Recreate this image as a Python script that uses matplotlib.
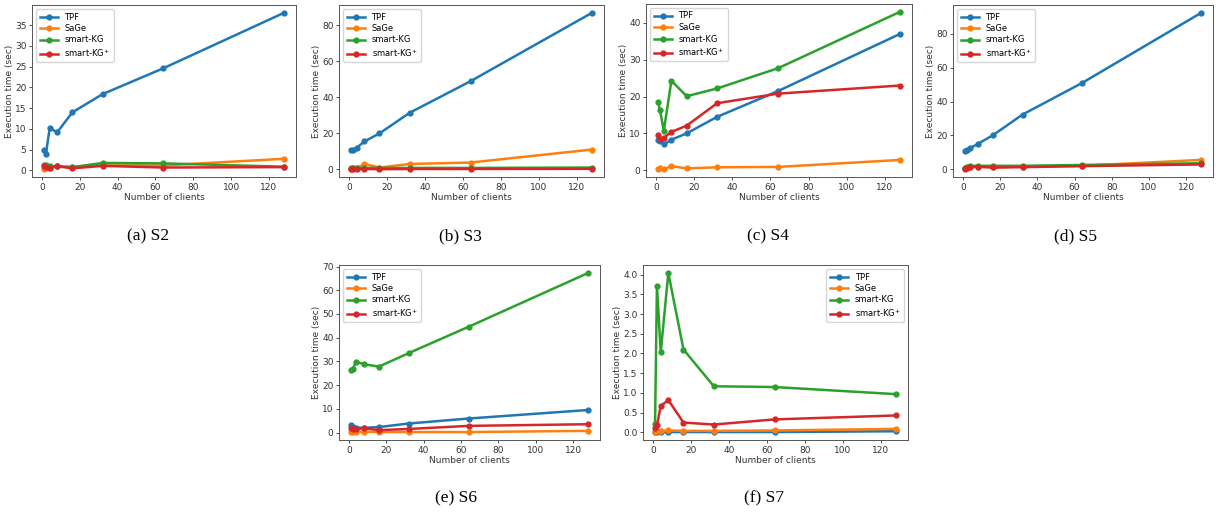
import matplotlib
matplotlib.use('Agg')
import matplotlib.pyplot as plt

clients = [1, 2, 4, 8, 16, 32, 64, 128]
series_names = ['TPF', 'SaGe', 'smart-KG', r'smart-KG$^{+}$']
colors = ['#1f77b4', '#ff7f0e', '#2ca02c', '#d62728']

# S2
s2_tpf = [5.0, 3.9, 10.2, 9.2, 14.0, 18.4, 24.6, 38.0]
s2_sage = [0.3, 0.5, 0.6, 1.0, 0.8, 1.2, 1.2, 2.8]
s2_skg = [1.2, 1.3, 1.0, 1.0, 0.8, 1.8, 1.7, 0.9]
s2_skgp = [1.0, 0.9, 0.7, 1.0, 0.5, 1.1, 0.7, 0.8]
# S3
s3_tpf = [10.5, 11.0, 12.0, 15.5, 20.0, 31.5, 49.0, 87.0]
s3_sage = [0.3, 0.5, 0.5, 3.0, 1.0, 3.0, 3.8, 11.0]
s3_skg = [0.8, 0.8, 0.8, 0.8, 0.8, 0.8, 0.8, 1.0]
s3_skgp = [0.2, 0.2, 0.2, 0.2, 0.1, 0.2, 0.2, 0.3]
# S4
s4_tpf = [8.3, 8.0, 7.0, 8.3, 10.0, 14.5, 21.5, 37.0]
s4_sage = [0.4, 0.5, 0.3, 1.1, 0.5, 0.8, 0.9, 2.8]
s4_skg = [18.5, 16.3, 10.7, 24.3, 20.1, 22.2, 27.7, 43.0]
s4_skgp = [9.5, 8.5, 8.8, 10.4, 12.1, 18.2, 20.8, 23.0]
# S5
s5_tpf = [10.5, 11.5, 12.5, 15.0, 20.0, 32.3, 51.0, 92.5]
s5_sage = [0.5, 1.0, 1.0, 1.5, 1.0, 1.5, 2.0, 5.5]
s5_skg = [0.5, 1.5, 2.0, 2.0, 2.0, 2.0, 2.5, 3.5]
s5_skgp = [0.0, 0.5, 1.5, 1.5, 1.0, 1.2, 1.8, 2.8]
# S6
s6_tpf = [3.3, 2.5, 2.0, 2.0, 2.3, 3.8, 5.9, 9.5]
s6_sage = [0.2, 0.3, 0.2, 0.3, 0.2, 0.2, 0.2, 0.7]
s6_skg = [26.5, 27.0, 29.8, 28.8, 27.8, 33.5, 44.6, 67.3]
s6_skgp = [2.0, 1.5, 1.5, 1.8, 1.0, 1.5, 2.8, 3.5]
# S7
s7_tpf = [0.01, 0.01, 0.01, 0.01, 0.01, 0.01, 0.01, 0.03]
s7_sage = [0.02, 0.03, 0.04, 0.05, 0.04, 0.04, 0.05, 0.09]
s7_skg = [0.22, 3.72, 2.03, 4.04, 2.10, 1.17, 1.15, 0.97]
s7_skgp = [0.10, 0.18, 0.67, 0.82, 0.25, 0.20, 0.33, 0.43]

captions = ['(a) S2', '(b) S3', '(c) S4', '(d) S5', '(e) S6', '(f) S7']
panel_data = [
    [s2_tpf, s2_sage, s2_skg, s2_skgp],
    [s3_tpf, s3_sage, s3_skg, s3_skgp],
    [s4_tpf, s4_sage, s4_skg, s4_skgp],
    [s5_tpf, s5_sage, s5_skg, s5_skgp],
    [s6_tpf, s6_sage, s6_skg, s6_skgp],
    [s7_tpf, s7_sage, s7_skg, s7_skgp],
]
yticks = [
    list(range(0, 40, 5)),
    list(range(0, 100, 20)),
    list(range(0, 50, 10)),
    list(range(0, 100, 20)),
    list(range(0, 80, 10)),
    [i * 0.5 for i in range(9)],
]
legend_loc = ['upper left'] * 5 + ['upper right']

W, H = 1216, 518
# axes boxes in pixels: left, top, right, bottom
boxes = [
    (32, 5, 296, 177),
    (339, 5, 604, 177),
    (646, 4, 912, 177),
    (953, 5, 1213, 177),
    (339, 265, 600, 440),
    (643, 265, 908, 440),
]
cap_pos = [(148, 236), (460, 236), (768, 236), (1076, 236), (456, 498), (764, 498)]

fig = plt.figure(figsize=(W / 100, H / 100), dpi=100)

for k in range(6):
    l, t, r, b = boxes[k]
    ax = fig.add_axes([l / W, (H - b) / H, (r - l) / W, (b - t) / H])
    for j in range(4):
        ax.plot(clients, panel_data[k][j], color=colors[j], marker='o',
                lw=1.8, ms=3.5, label=series_names[j])
    ax.set_xticks([0, 20, 40, 60, 80, 100, 120])
    ax.set_yticks(yticks[k])
    if k == 5:
        ax.set_yticklabels(['%.1f' % v for v in yticks[k]])
    ax.tick_params(labelsize=6.5, colors='#333333', length=2.5, width=0.6, pad=1.5)
    for s in ax.spines.values():
        s.set_color('#555555')
        s.set_linewidth(0.7)
    ax.set_xlabel('Number of clients', fontsize=6.5, color='#333333', labelpad=1)
    ax.set_ylabel('Execution time (sec)', fontsize=6.5, color='#333333', labelpad=1)
    ax.legend(loc=legend_loc[k], fontsize=6, handlelength=2.2, borderpad=0.4,
              labelspacing=0.3, framealpha=0.8)
    cx, cy = cap_pos[k]
    fig.text(cx / W, (H - cy) / H, captions[k], ha='center', va='center',
             fontsize=12.5, family='Liberation Serif')

fig.savefig('out.png', dpi=100)
